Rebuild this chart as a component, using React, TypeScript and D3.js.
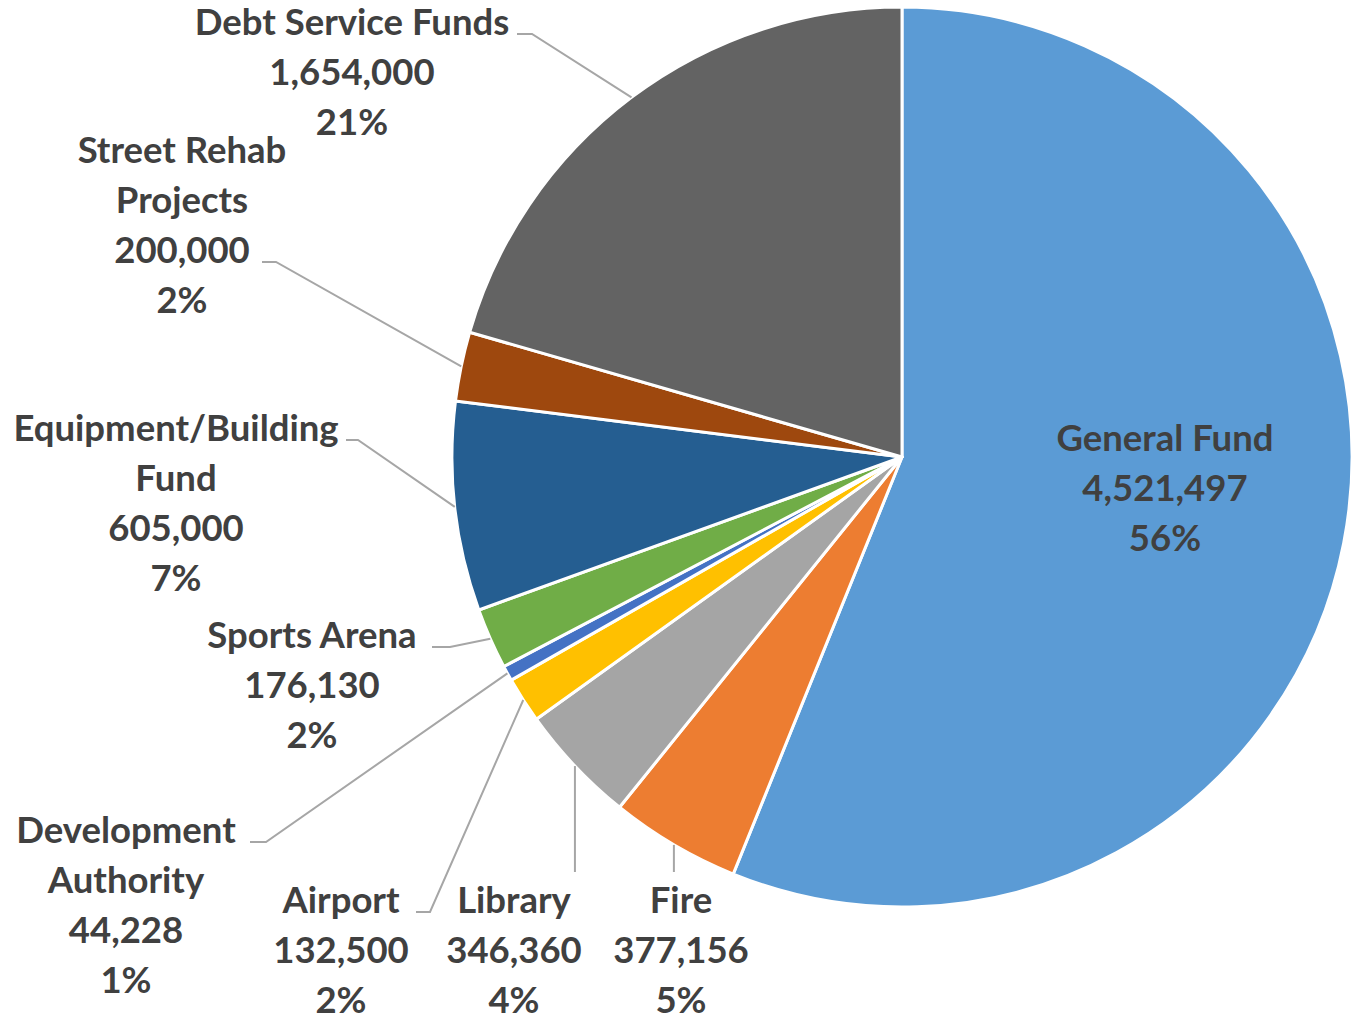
import { useMemo } from "react";
import * as d3 from "d3";

const funds = [
  "General Fund",
  "Fire",
  "Library",
  "Airport",
  "Development Authority",
  "Sports Arena",
  "Equipment/Building Fund",
  "Street Rehab Projects",
  "Debt Service Funds",
];
const amounts = [4521497, 377156, 346360, 132500, 44228, 176130, 605000, 200000, 1654000];
const percentLabels = ["56%", "5%", "4%", "2%", "1%", "2%", "7%", "2%", "21%"];
const nameLines = [
  ["General Fund"],
  ["Fire"],
  ["Library"],
  ["Airport"],
  ["Development", "Authority"],
  ["Sports Arena"],
  ["Equipment/Building", "Fund"],
  ["Street Rehab", "Projects"],
  ["Debt Service Funds"],
];
const sliceColors = [
  "#5B9BD5",
  "#ED7D31",
  "#A5A5A5",
  "#FFC000",
  "#4472C4",
  "#70AD47",
  "#255E91",
  "#9E480E",
  "#636363",
];

// label placement: centre x, first line y, leader (row, start x, knee x) or vertical
const labelLayout = [
  { x: 1165, y: 438, leader: null },
  { x: 681, y: 900, leader: { kind: "v", top: 872 } },
  { x: 514, y: 900, leader: { kind: "v", top: 872 } },
  { x: 341, y: 900, leader: { kind: "h", row: 0, start: 416, knee: 430 } },
  { x: 126, y: 830, leader: { kind: "h", row: 0, start: 250, knee: 266 } },
  { x: 312, y: 635, leader: { kind: "h", row: 0, start: 432, knee: 450 } },
  { x: 176, y: 428, leader: { kind: "h", row: 0, start: 346, knee: 358 } },
  { x: 182, y: 150, leader: { kind: "h", row: 2, start: 262, knee: 276 } },
  { x: 352, y: 22, leader: { kind: "h", row: 0, start: 517, knee: 532 } },
];

const W = 1353;
const H = 1020;
const cx = 902;
const cy = 457;
const R = 450;
const lineGap = 50;

export default function App() {
  const arcs = useMemo(
    () =>
      d3
        .pie<number>()
        .sort(null)
        .value((d) => d)(amounts),
    []
  );
  const arcGen = d3.arc<d3.PieArcDatum<number>>().innerRadius(0).outerRadius(R);
  const fmt = d3.format(",");

  return (
    <svg
      width={W}
      height={H}
      style={{ position: "absolute", left: 0, top: 0, background: "#fff" }}
      fontFamily="Lato, 'Open Sans', sans-serif"
    >
      <g transform={`translate(${cx},${cy})`}>
        {arcs.map((a, i) => (
          <path
            key={funds[i]}
            d={arcGen(a) || ""}
            fill={sliceColors[i]}
            stroke="#fff"
            strokeWidth={3}
            strokeLinejoin="round"
          />
        ))}
      </g>
      {arcs.map((a, i) => {
        const L = labelLayout[i];
        if (!L.leader) return null;
        const mid = (a.startAngle + a.endAngle) / 2;
        const px = cx + R * Math.sin(mid);
        const py = cy - R * Math.cos(mid);
        let pts: [number, number][];
        if (L.leader.kind === "v") {
          pts = [
            [px, L.leader.top],
            [px, py],
          ];
        } else {
          const ly = L.y + L.leader.row * lineGap + 12;
          pts = [
            [L.leader.start, ly],
            [L.leader.knee, ly],
            [px, py],
          ];
        }
        return (
          <path
            key={"l" + i}
            d={d3.line()(pts) || ""}
            fill="none"
            stroke="#A6A6A6"
            strokeWidth={2}
          />
        );
      })}
      {funds.map((f, i) => {
        const L = labelLayout[i];
        const lines = [...nameLines[i], fmt(amounts[i]), percentLabels[i]];
        return (
          <text
            key={"t" + f}
            textAnchor="middle"
            fontSize={36.5}
            fontWeight={700}
            fill="#404040"
          >
            {lines.map((s, j) => (
              <tspan key={j} x={L.x} y={L.y + j * lineGap} dy="0.36em">
                {s}
              </tspan>
            ))}
          </text>
        );
      })}
    </svg>
  );
}
